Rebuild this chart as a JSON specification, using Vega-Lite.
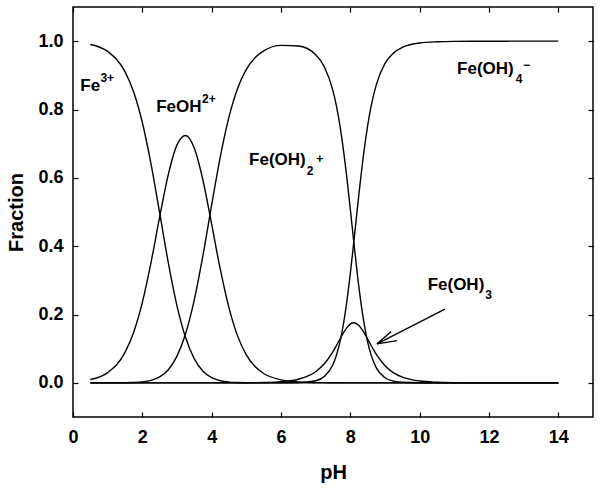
{
  "$schema": "https://vega.github.io/schema/vega-lite/v6.json",
  "width": 520,
  "height": 410,
  "autosize": {"type": "none"},
  "padding": {"left": 73, "top": 7, "right": 7, "bottom": 71},
  "config": {
    "view": {"stroke": "black", "strokeWidth": 1.5},
    "font": "Liberation Sans",
    "axis": {
      "grid": false,
      "domain": false,
      "tickColor": "black",
      "tickSize": -5,
      "tickWidth": 1.2,
      "labelFont": "Liberation Sans",
      "labelFontWeight": "bold",
      "labelFontSize": 18,
      "labelColor": "black",
      "labelFlush": false,
      "titleFont": "Liberation Sans",
      "titleFontWeight": "bold",
      "titleFontSize": 20,
      "titleColor": "black"
    }
  },
  "datasets": {
    "curves": [
      {"pH": 0.5, "Fe": 0.9903, "FeOH": 0.0097, "FeOH2": 0, "FeOH3": 0, "FeOH4": 0},
      {"pH": 1.0, "Fe": 0.970, "FeOH": 0.030, "FeOH2": 0, "FeOH3": 0, "FeOH4": 0},
      {"pH": 1.5, "Fe": 0.9107, "FeOH": 0.0890, "FeOH2": 0.0003, "FeOH3": 0, "FeOH4": 0},
      {"pH": 1.75, "Fe": 0.8511, "FeOH": 0.1479, "FeOH2": 0.0009, "FeOH3": 0, "FeOH4": 0},
      {"pH": 2.0, "Fe": 0.762, "FeOH": 0.2354, "FeOH2": 0.0026, "FeOH3": 0, "FeOH4": 0},
      {"pH": 2.25, "Fe": 0.6408, "FeOH": 0.3521, "FeOH2": 0.0070, "FeOH3": 0, "FeOH4": 0},
      {"pH": 2.5, "Fe": 0.4971, "FeOH": 0.4857, "FeOH2": 0.0172, "FeOH3": 0, "FeOH4": 0},
      {"pH": 2.75, "Fe": 0.3512, "FeOH": 0.6103, "FeOH2": 0.0385, "FeOH3": 0, "FeOH4": 0},
      {"pH": 3.0, "Fe": 0.2254, "FeOH": 0.6965, "FeOH2": 0.0781, "FeOH3": 0, "FeOH4": 0},
      {"pH": 3.25, "Fe": 0.1317, "FeOH": 0.7238, "FeOH2": 0.1444, "FeOH3": 0, "FeOH4": 0},
      {"pH": 3.5, "Fe": 0.0702, "FeOH": 0.6863, "FeOH2": 0.2435, "FeOH3": 0, "FeOH4": 0},
      {"pH": 3.75, "Fe": 0.0341, "FeOH": 0.5922, "FeOH2": 0.3737, "FeOH3": 0, "FeOH4": 0},
      {"pH": 4.0, "Fe": 0.0150, "FeOH": 0.4642, "FeOH2": 0.5208, "FeOH3": 0, "FeOH4": 0},
      {"pH": 4.25, "Fe": 0.0060, "FeOH": 0.3318, "FeOH2": 0.6622, "FeOH3": 0.0001, "FeOH4": 0},
      {"pH": 4.5, "Fe": 0.0022, "FeOH": 0.2194, "FeOH2": 0.7784, "FeOH3": 0.0001, "FeOH4": 0},
      {"pH": 4.75, "Fe": 0.0008, "FeOH": 0.1367, "FeOH2": 0.8625, "FeOH3": 0.0002, "FeOH4": 0},
      {"pH": 5.0, "Fe": 0.0003, "FeOH": 0.0818, "FeOH2": 0.9177, "FeOH3": 0.0003, "FeOH4": 0},
      {"pH": 5.25, "Fe": 0.0001, "FeOH": 0.0477, "FeOH2": 0.9517, "FeOH3": 0.0006, "FeOH4": 0},
      {"pH": 5.5, "Fe": 0, "FeOH": 0.0274, "FeOH2": 0.9716, "FeOH3": 0.0010, "FeOH4": 0},
      {"pH": 6.0, "Fe": 0, "FeOH": 0.0088, "FeOH2": 0.9878, "FeOH3": 0.0034, "FeOH4": 0.0001},
      {"pH": 6.5, "Fe": 0, "FeOH": 0.0028, "FeOH2": 0.9860, "FeOH3": 0.0106, "FeOH4": 0.0006},
      {"pH": 7.0, "Fe": 0, "FeOH": 0.0009, "FeOH2": 0.9605, "FeOH3": 0.0326, "FeOH4": 0.0061},
      {"pH": 7.25, "Fe": 0, "FeOH": 0.0005, "FeOH2": 0.9253, "FeOH3": 0.0558, "FeOH4": 0.0185},
      {"pH": 7.5, "Fe": 0, "FeOH": 0.0003, "FeOH2": 0.8543, "FeOH3": 0.0916, "FeOH4": 0.0539},
      {"pH": 7.6, "Fe": 0, "FeOH": 0.0002, "FeOH2": 0.8098, "FeOH3": 0.1092, "FeOH4": 0.0810},
      {"pH": 7.75, "Fe": 0, "FeOH": 0.0001, "FeOH2": 0.7194, "FeOH3": 0.1371, "FeOH4": 0.1435},
      {"pH": 7.9, "Fe": 0, "FeOH": 0, "FeOH2": 0.5998, "FeOH3": 0.1615, "FeOH4": 0.2388},
      {"pH": 8.0, "Fe": 0, "FeOH": 0, "FeOH2": 0.5077, "FeOH3": 0.1720, "FeOH4": 0.3203},
      {"pH": 8.1, "Fe": 0, "FeOH": 0, "FeOH2": 0.4121, "FeOH3": 0.1758, "FeOH4": 0.4121},
      {"pH": 8.25, "Fe": 0, "FeOH": 0, "FeOH2": 0.2780, "FeOH3": 0.1675, "FeOH4": 0.5545},
      {"pH": 8.4, "Fe": 0, "FeOH": 0, "FeOH2": 0.1715, "FeOH3": 0.1459, "FeOH4": 0.6826},
      {"pH": 8.5, "Fe": 0, "FeOH": 0, "FeOH2": 0.1193, "FeOH3": 0.1278, "FeOH4": 0.7528},
      {"pH": 8.6, "Fe": 0, "FeOH": 0, "FeOH2": 0.0810, "FeOH3": 0.1092, "FeOH4": 0.8098},
      {"pH": 8.75, "Fe": 0, "FeOH": 0, "FeOH2": 0.0437, "FeOH3": 0.0834, "FeOH4": 0.8729},
      {"pH": 9.0, "Fe": 0, "FeOH": 0, "FeOH2": 0.0148, "FeOH3": 0.0502, "FeOH4": 0.9350},
      {"pH": 9.25, "Fe": 0, "FeOH": 0, "FeOH2": 0.0048, "FeOH3": 0.0292, "FeOH4": 0.9660},
      {"pH": 9.5, "Fe": 0, "FeOH": 0, "FeOH2": 0.0016, "FeOH3": 0.0167, "FeOH4": 0.9818},
      {"pH": 10.0, "Fe": 0, "FeOH": 0, "FeOH2": 0.0002, "FeOH3": 0.0053, "FeOH4": 0.9945},
      {"pH": 10.5, "Fe": 0, "FeOH": 0, "FeOH2": 0, "FeOH3": 0.0017, "FeOH4": 0.9983},
      {"pH": 11.0, "Fe": 0, "FeOH": 0, "FeOH2": 0, "FeOH3": 0.0005, "FeOH4": 0.9995},
      {"pH": 12.0, "Fe": 0, "FeOH": 0, "FeOH2": 0, "FeOH3": 0.0001, "FeOH4": 0.9999},
      {"pH": 13.0, "Fe": 0, "FeOH": 0, "FeOH2": 0, "FeOH3": 0, "FeOH4": 1.0},
      {"pH": 14.0, "Fe": 0, "FeOH": 0, "FeOH2": 0, "FeOH3": 0, "FeOH4": 1.0}
    ],
    "arrow": [
      {"x1": 10.73, "y1": 0.2155, "x2": 8.77, "y2": 0.114},
      {"x1": 9.18, "y1": 0.150, "x2": 8.77, "y2": 0.114},
      {"x1": 9.35, "y1": 0.1237, "x2": 8.77, "y2": 0.114}
    ],
    "mainLabels": [
      {"pH": 0.21, "f": 0.854, "t": "Fe"},
      {"pH": 2.40, "f": 0.792, "t": "FeOH"},
      {"pH": 5.08, "f": 0.637, "t": "Fe(OH)"},
      {"pH": 10.23, "f": 0.272, "t": "Fe(OH)"},
      {"pH": 11.08, "f": 0.9035, "t": "Fe(OH)"}
    ],
    "smallLabels": [
      {"pH": 0.79, "f": 0.880, "t": "3+"},
      {"pH": 3.72, "f": 0.819, "t": "2+"},
      {"pH": 6.74, "f": 0.608, "t": "2"},
      {"pH": 7.02, "f": 0.643, "t": "+"},
      {"pH": 11.89, "f": 0.246, "t": "3"},
      {"pH": 12.77, "f": 0.877, "t": "4"},
      {"pH": 12.98, "f": 0.918, "t": "−"}
    ]
  },
  "layer": [
    {
      "data": {"name": "curves"},
      "transform": [{"fold": ["Fe", "FeOH", "FeOH2", "FeOH3", "FeOH4"], "as": ["species", "fraction"]}],
      "mark": {"type": "line", "color": "black", "strokeWidth": 1.4, "interpolate": "monotone"},
      "encoding": {
        "x": {"field": "pH", "type": "quantitative", "scale": {"domain": [0, 15], "nice": false, "zero": false},
              "axis": {"orient": "bottom", "values": [0, 2, 4, 6, 8, 10, 12, 14], "title": "pH", "labelPadding": 16, "titlePadding": 16}},
        "y": {"field": "fraction", "type": "quantitative", "scale": {"domain": [-0.1, 1.1], "nice": false, "zero": false},
              "axis": {"orient": "left", "values": [0, 0.2, 0.4, 0.6, 0.8, 1], "format": ".1f", "title": "Fraction", "labelPadding": 15, "titlePadding": 11}},
        "detail": {"field": "species"}
      }
    },
    {
      "data": {"name": "arrow"},
      "mark": {"type": "rule", "color": "black", "strokeWidth": 1.4},
      "encoding": {
        "x": {"field": "x1", "type": "quantitative", "scale": {"domain": [0, 15], "nice": false, "zero": false},
              "axis": {"orient": "top", "labels": false, "title": null, "values": [0, 2, 4, 6, 8, 10, 12, 14]}},
        "y": {"field": "y1", "type": "quantitative", "scale": {"domain": [-0.1, 1.1], "nice": false, "zero": false},
              "axis": {"orient": "right", "labels": false, "title": null, "values": [0, 0.2, 0.4, 0.6, 0.8, 1]}},
        "x2": {"field": "x2"},
        "y2": {"field": "y2"}
      }
    },
    {
      "data": {"name": "mainLabels"},
      "mark": {"type": "text", "align": "left", "baseline": "alphabetic", "font": "Liberation Sans", "fontWeight": "bold", "fontSize": 17, "color": "black"},
      "encoding": {
        "x": {"field": "pH", "type": "quantitative", "axis": null},
        "y": {"field": "f", "type": "quantitative", "axis": null},
        "text": {"field": "t"}
      }
    },
    {
      "data": {"name": "smallLabels"},
      "mark": {"type": "text", "align": "left", "baseline": "alphabetic", "font": "Liberation Sans", "fontWeight": "bold", "fontSize": 12, "color": "black"},
      "encoding": {
        "x": {"field": "pH", "type": "quantitative", "axis": null},
        "y": {"field": "f", "type": "quantitative", "axis": null},
        "text": {"field": "t"}
      }
    }
  ]
}
